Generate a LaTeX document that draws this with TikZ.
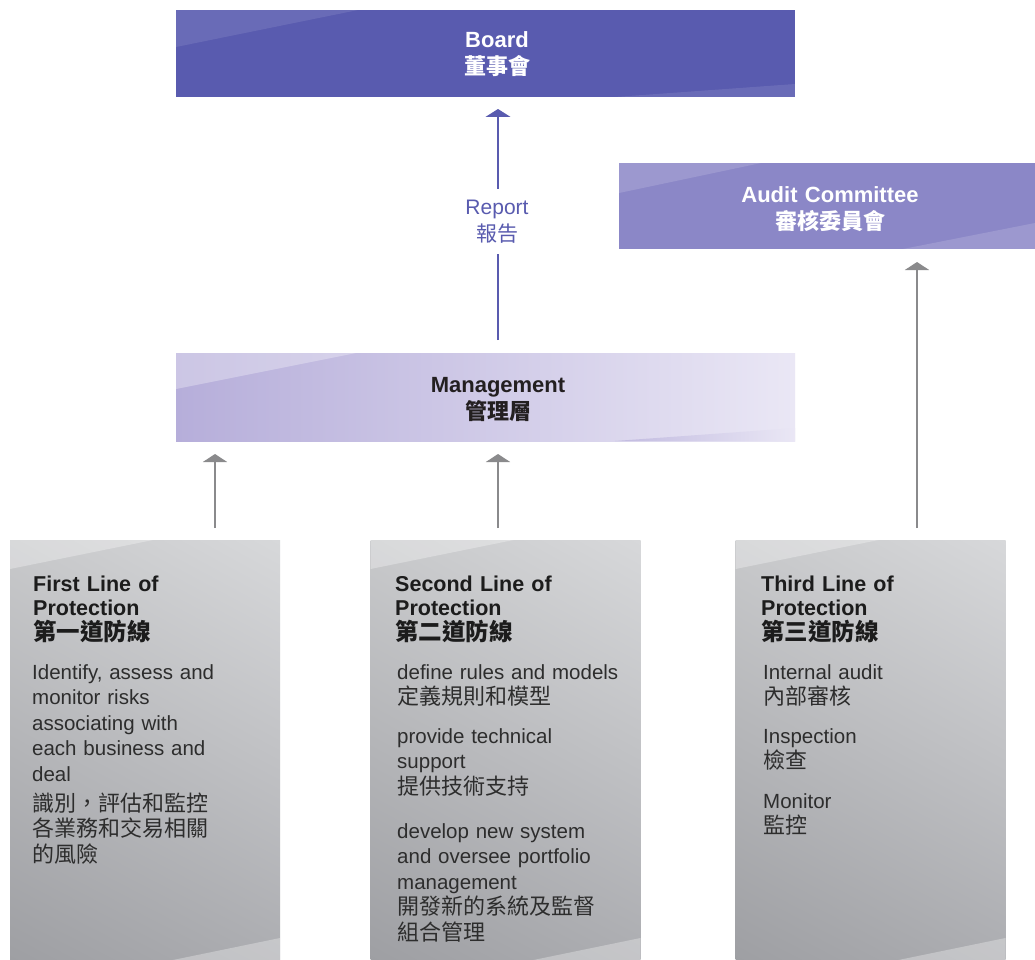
\documentclass[tikz,border=0pt]{standalone}
\usepackage{fontspec}
\setmainfont{Liberation Sans}
\newfontfamily\cjk{Noto Sans CJK TC}
\usetikzlibrary{arrows.meta,calc,shadings}
\definecolor{boardc}{RGB}{89,91,175}
\definecolor{auditc}{RGB}{139,135,199}
\definecolor{mgmtl}{RGB}{182,174,218}
\definecolor{mgmtr}{RGB}{234,231,245}
\definecolor{greyul}{RGB}{200,201,203}
\definecolor{greyur}{RGB}{215,216,218}
\definecolor{greyll}{RGB}{158,159,163}
\definecolor{greylr}{RGB}{172,173,177}
\definecolor{arrowg}{RGB}{138,138,140}
\definecolor{titlec}{RGB}{28,28,28}
\definecolor{bodyc}{RGB}{45,45,45}
\definecolor{mgmttext}{RGB}{35,31,32}
\newcommand\zhb{\fontsize{22}{25.5}\selectfont\cjk}
\newcommand\zht{\fontsize{23.5}{24.5}\selectfont\cjk}
\begin{document}
\begin{tikzpicture}[x=1pt,y=-1pt,
  panel/.style={rectangle,inner sep=0pt,outer sep=0pt},
  hlw/.style={fill=white,fill opacity=#1},
  toptext/.style={anchor=base,inner sep=0pt,text width=400pt,align=center,font=\fontsize{22}{27}\selectfont\bfseries},
  ttl/.style={anchor=base west,inner sep=0pt,text width=250pt,align=left,text=titlec,font=\fontsize{21.5}{24.5}\selectfont\bfseries},
  bodytxt/.style={anchor=base west,inner sep=0pt,text width=240pt,align=left,text=bodyc,font=\fontsize{20.5}{25.5}\selectfont},
  rline/.style={draw=boardc,line width=1.5pt},
  garrow/.style={draw=arrowg,line width=2pt,shorten <=12pt,shorten >=13pt,-{Triangle[width=24pt,length=8pt]}}
]
\useasboundingbox (0,0) rectangle (1035,960);
\fill[white] (0,0) rectangle (1035,960);

% ---- Board ----
\node[panel,fill=boardc,minimum width=619pt,minimum height=87pt] (board) at (485.5,53.5) {};
\fill[hlw=0.1] (board.north west) -- ($(board.north west)+(182,0)$) -- ($(board.north west)+(0,37)$) -- cycle;
\fill[hlw=0.1] (board.south east) -- ($(board.south east)+(-180,0)$) -- ($(board.south east)+(0,-13)$) -- cycle;
\node[toptext,text=white] (boardt) at (497,48) {Board\\\cjk 董事會};

% ---- Audit Committee ----
\node[panel,fill=auditc,minimum width=416pt,minimum height=86pt] (audit) at (827,206) {};
\fill[hlw=0.15] (audit.north west) -- ($(audit.north west)+(142,0)$) -- ($(audit.north west)+(0,30)$) -- cycle;
\fill[hlw=0.15] (audit.south east) -- ($(audit.south east)+(-132,0)$) -- ($(audit.south east)+(0,-26)$) -- cycle;
\node[toptext,text=white] (auditt) at (830,202) {Audit Committee\\\cjk 審核委員會};

% ---- Management ----
\node[panel,left color=mgmtl,right color=mgmtr,minimum width=619pt,minimum height=88pt] (mgmt) at (485.5,397) {};
\fill[hlw=0.3] (mgmt.north west) -- ($(mgmt.north west)+(180,0)$) -- ($(mgmt.north west)+(0,36)$) -- cycle;
\shade[left color=mgmtl!85!white,right color=mgmtr] (mgmt.south east) -- ($(mgmt.south east)+(-180,0)$) -- ($(mgmt.south east)+(0,-13)$) -- cycle;
\node[toptext,text=mgmttext] (mgmtt) at (498,392) {Management\\\cjk 管理層};

% ---- Report arrow ----
\node[anchor=base,inner xsep=0pt,inner ysep=10.5pt,text width=120pt,align=center,text=boardc,font=\fontsize{21}{27}\selectfont] (report) at (497,214) {Report\\\cjk 報告};
\coordinate (rx) at (498,0);
\draw[rline,shorten <=13pt] (rx |- mgmt.north) -- (rx |- report.south);
\draw[rline,shorten >=12pt,-{Triangle[width=25pt,length=8pt]}] (rx |- report.north) -- (rx |- board.south);

% ---- Bottom panels ----
\foreach \nm/\cx in {b1/145, b2/505.5, b3/870.5}{
  \node[panel,upper left=greyul,upper right=greyur,lower left=greyll,lower right=greylr,minimum width=270pt,minimum height=420pt] (\nm) at (\cx,750) {};
  \fill[hlw=0.3] (\nm.north west) -- ($(\nm.north west)+(143,0)$) -- ($(\nm.north west)+(0,29)$) -- cycle;
  \fill[hlw=0.3] (\nm.south east) -- ($(\nm.south east)+(-107,0)$) -- ($(\nm.south east)+(0,-22)$) -- cycle;
}

% ---- Gray arrows ----
\coordinate (g1) at (215,0);
\coordinate (g2) at (498,0);
\coordinate (g3) at (917,0);
\draw[garrow] (g1 |- b1.north) -- (g1 |- mgmt.south);
\draw[garrow] (g2 |- b2.north) -- (g2 |- mgmt.south);
\draw[garrow] (g3 |- b3.north) -- (g3 |- audit.south);

% ---- Texts of panel 1 ----
\node[ttl] (t1) at (33,591) {First Line of\\Protection\\\zht 第一道防線};
\node[bodytxt] (p11) at (32,679) {Identify, assess and\\monitor risks\\associating with\\each business and\\deal\\[4.5pt]\zhb 識別，評估和監控\\各業務和交易相關\\的風險};

% ---- Texts of panel 2 ----
\node[ttl] (t2) at (395,591) {Second Line of\\Protection\\\zht 第二道防線};
\node[bodytxt] (p21) at (397,679) {define rules and models\\\zhb 定義規則和模型};
\node[bodytxt] (p22) at (397,743) {provide technical\\support\\\zhb 提供技術支持};
\node[bodytxt] (p23) at (397,838) {develop new system\\and oversee portfolio\\management\\\zhb 開發新的系統及監督\\組合管理};

% ---- Texts of panel 3 ----
\node[ttl] (t3) at (761,591) {Third Line of\\Protection\\\zht 第三道防線};
\node[bodytxt] (p31) at (763,679) {Internal audit\\\zhb 內部審核};
\node[bodytxt] (p32) at (763,743) {Inspection\\\zhb 檢查};
\node[bodytxt] (p33) at (763,808) {Monitor\\\zhb 監控};
\end{tikzpicture}
\end{document}
